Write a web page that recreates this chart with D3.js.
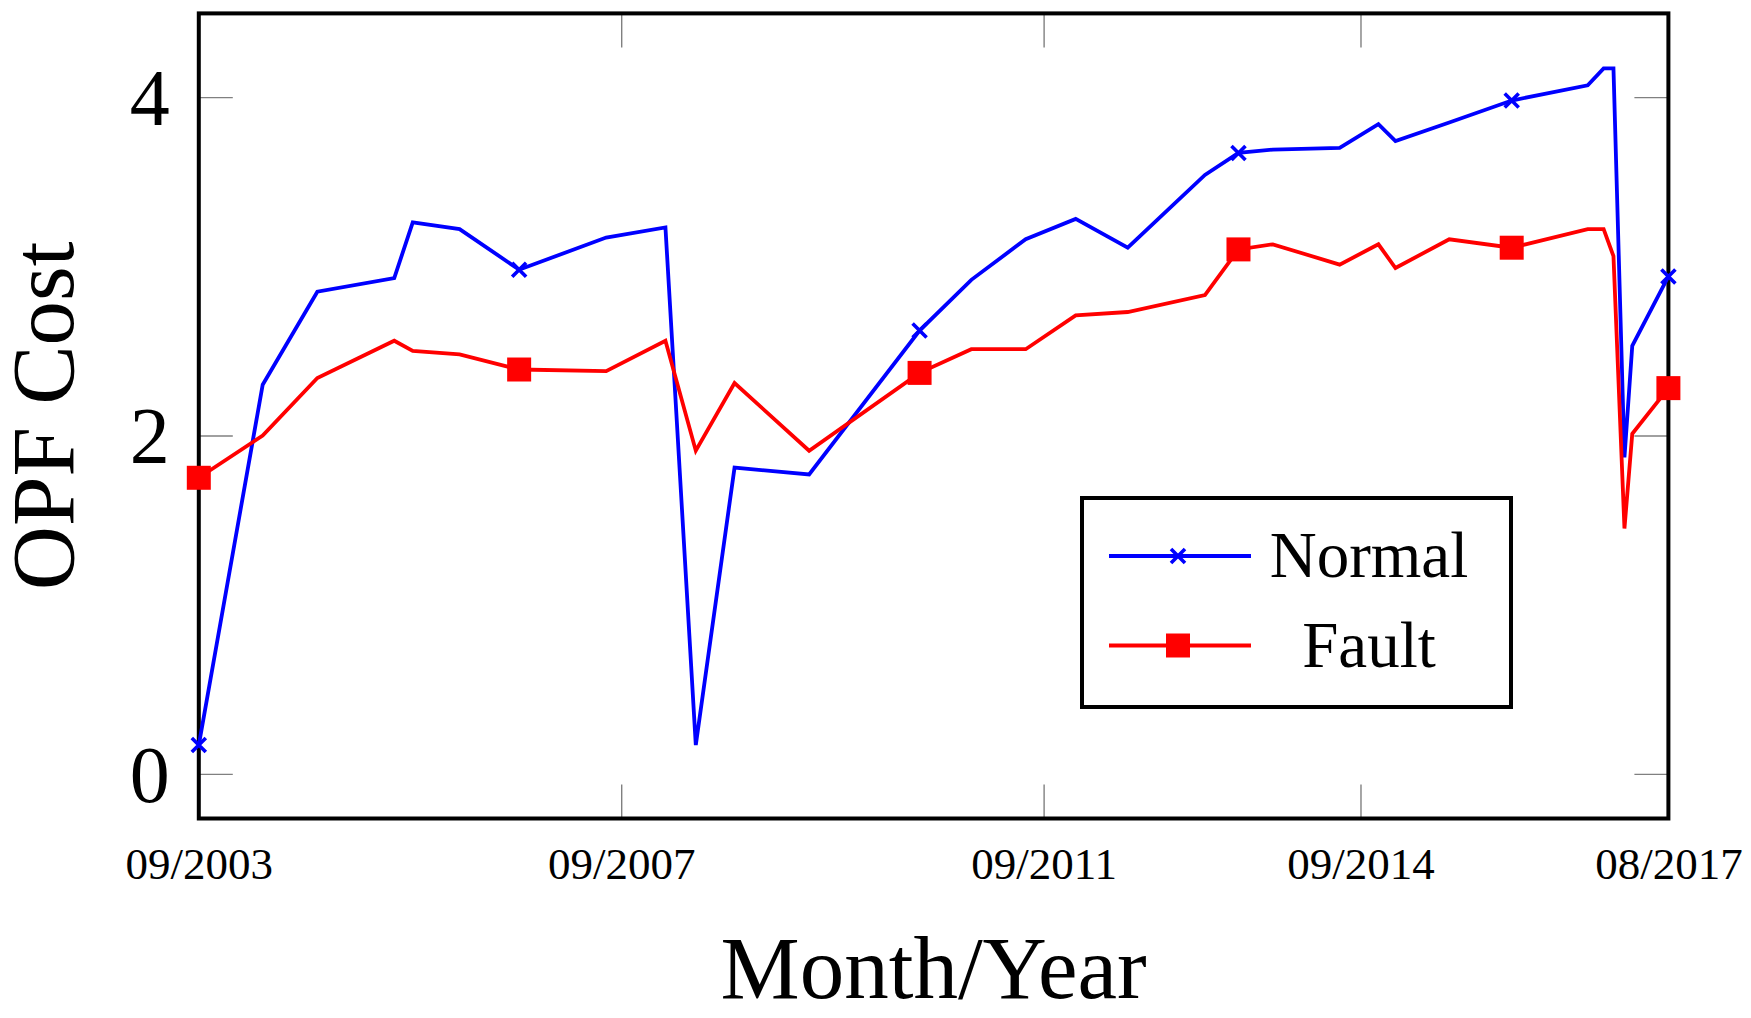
<!DOCTYPE html>
<html lang="en">
<head>
<meta charset="utf-8">
<title>OPF Cost</title>
<script src="https://cdn.jsdelivr.net/npm/d3@7"></script>
<style>
  body { margin: 0; background: #ffffff; }
  .tick text { font-family: "Liberation Serif", serif; fill: #000; }
  .tick line { stroke: #808080; stroke-width: 1.4; }
  .axis_label { font-family: "Liberation Serif", serif; font-size: 89px; fill: #000; text-anchor: middle; }
  .legend_text { font-family: "Liberation Serif", serif; font-size: 65px; fill: #000; text-anchor: middle; }
</style>
</head>
<body>
<script>
// dates of the samples (shared by both series)
var sampleDates = ["2003-09-01", "2004-04-09", "2004-10-15", "2005-07-08", "2005-09-10",
  "2006-02-19", "2006-09-13", "2007-07-11", "2008-02-01", "2008-05-16",
  "2008-09-27", "2009-06-12", "2010-06-29", "2010-12-25", "2011-07-01",
  "2011-12-21", "2012-06-18", "2013-03-12", "2013-07-06", "2013-11-02",
  "2014-06-21", "2014-11-02", "2014-12-31", "2015-07-05", "2016-02-06",
  "2016-10-26", "2016-12-20", "2017-01-23", "2017-03-02", "2017-03-29",
  "2017-08-01"];

var normalCost = [0.17, 2.30, 2.85, 2.93, 3.26, 3.22, 2.98, 3.17, 3.23, 0.17,
  1.81, 1.77, 2.62, 2.92, 3.16, 3.28, 3.11, 3.54, 3.67, 3.69,
  3.70, 3.84, 3.74, 3.85, 3.98, 4.07, 4.17, 4.17, 1.87, 2.53,
  2.94];

var faultCost = [1.75, 2.00, 2.34, 2.56, 2.50, 2.48, 2.39, 2.38, 2.56, 1.91,
  2.31, 1.91, 2.37, 2.51, 2.51, 2.71, 2.73, 2.83, 3.10, 3.13,
  3.01, 3.13, 2.99, 3.16, 3.11, 3.22, 3.22, 3.06, 1.45, 2.01,
  2.28];

var xTickDates = ["2003-09-01", "2007-09-01", "2011-09-01", "2014-09-01", "2017-08-01"];
var yTickValues = [0, 2, 4];
var seriesNames = ["Normal", "Fault"];
var markEvery = 6;

var svgWidth = 1751, svgHeight = 1018;
var plotLeft = 198.8, plotRight = 1668.4, plotTop = 13.4, plotBottom = 818.5;
var tickLen = 34;

var parseDate = d3.timeParse("%Y-%m-%d");
var fmtDate = d3.timeFormat("%m/%Y");

var svg = d3.select("body").append("svg")
  .attr("width", svgWidth)
  .attr("height", svgHeight);

var x = d3.scaleTime()
  .domain([parseDate("2003-09-01"), parseDate("2017-08-01")])
  .range([plotLeft, plotRight]);

var y = d3.scaleLinear()
  .domain([-0.264, 4.495])
  .range([plotBottom, plotTop]);

var xTicks = xTickDates.map(parseDate);

// axes, ticks pointing inwards on all four sides
svg.append("g")
  .attr("transform", "translate(0," + plotBottom + ")")
  .call(d3.axisBottom(x).tickValues(xTicks).tickFormat(fmtDate)
    .tickSizeInner(-tickLen).tickSizeOuter(0).tickPadding(60))
  .call(function(g) { g.select(".domain").remove(); })
  .selectAll("text").attr("font-size", 45).attr("dy", "0");

svg.append("g")
  .attr("transform", "translate(0," + plotTop + ")")
  .call(d3.axisTop(x).tickValues(xTicks).tickFormat("")
    .tickSizeInner(-tickLen).tickSizeOuter(0))
  .call(function(g) { g.select(".domain").remove(); });

svg.append("g")
  .attr("transform", "translate(" + plotLeft + ",0)")
  .call(d3.axisLeft(y).tickValues(yTickValues).tickFormat(d3.format("d"))
    .tickSizeInner(-tickLen).tickSizeOuter(0).tickPadding(29))
  .call(function(g) { g.select(".domain").remove(); })
  .selectAll("text").attr("font-size", 80).attr("dy", "0.34em");

svg.append("g")
  .attr("transform", "translate(" + plotRight + ",0)")
  .call(d3.axisRight(y).tickValues(yTickValues).tickFormat("")
    .tickSizeInner(-tickLen).tickSizeOuter(0))
  .call(function(g) { g.select(".domain").remove(); });

// frame
svg.append("rect")
  .attr("x", plotLeft).attr("y", plotTop)
  .attr("width", plotRight - plotLeft).attr("height", plotBottom - plotTop)
  .attr("fill", "none")
  .attr("stroke", "#000")
  .attr("stroke-width", 4);

// axis labels
svg.append("text")
  .attr("class", "axis_label")
  .attr("x", (plotLeft + plotRight) / 2)
  .attr("y", 998)
  .text("Month/Year");

svg.append("text")
  .attr("class", "axis_label")
  .attr("transform", "translate(73," + ((plotTop + plotBottom) / 2) + ") rotate(-90)")
  .text("OPF Cost");

var series = [
  { name: seriesNames[0], values: normalCost, color: "#0000ff", mark: "x" },
  { name: seriesNames[1], values: faultCost, color: "#ff0000", mark: "square" }
];

var line = d3.line()
  .x(function(d) { return x(d.date); })
  .y(function(d) { return y(d.value); });

var crossPath = "M-7,-7L7,7M-7,7L7,-7";
var squarePath = d3.symbol(d3.symbolSquare).size(24 * 24)();

function drawMark(sel, s) {
  if (s.mark === "x") {
    sel.append("path")
      .attr("d", crossPath)
      .attr("fill", "none")
      .attr("stroke", s.color)
      .attr("stroke-width", 3.6);
  } else {
    sel.append("path")
      .attr("d", squarePath)
      .attr("fill", s.color);
  }
}

series.forEach(function(s) {
  var pts = sampleDates.map(function(d, i) {
    return { date: parseDate(d), value: s.values[i] };
  });

  svg.append("path")
    .datum(pts)
    .attr("d", line)
    .attr("fill", "none")
    .attr("stroke", s.color)
    .attr("stroke-width", 3.8)
    .attr("stroke-linejoin", "miter")
    .attr("stroke-miterlimit", 10);

  svg.selectAll(null)
    .data(pts.filter(function(d, i) { return i % markEvery === 0; }))
    .enter()
    .append("g")
    .attr("transform", function(d) { return "translate(" + x(d.date) + "," + y(d.value) + ")"; })
    .each(function() { drawMark(d3.select(this), s); });
});

// legend
var legend = svg.append("g");
legend.append("rect")
  .attr("x", 1082).attr("y", 498)
  .attr("width", 429).attr("height", 209)
  .attr("fill", "#fff")
  .attr("stroke", "#000")
  .attr("stroke-width", 4);

series.forEach(function(s, i) {
  var rowY = 556 + i * 89.5;
  var row = legend.append("g");
  row.append("line")
    .attr("x1", 1109).attr("x2", 1251)
    .attr("y1", rowY).attr("y2", rowY)
    .attr("stroke", s.color)
    .attr("stroke-width", 3.8);
  var m = row.append("g").attr("transform", "translate(1178," + rowY + ")");
  drawMark(m, s);
  row.append("text")
    .attr("class", "legend_text")
    .attr("x", 1369)
    .attr("y", rowY + 21)
    .text(s.name);
});
</script>
</body>
</html>
